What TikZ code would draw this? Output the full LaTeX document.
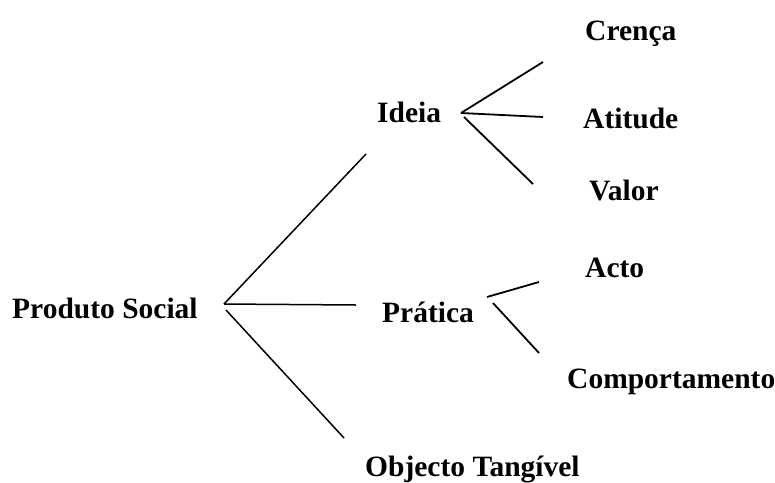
\documentclass[tikz,border=0pt]{standalone}
\usepackage{fontspec}
\setmainfont{Liberation Serif}
\begin{document}
\begin{tikzpicture}[x=1pt,y=-1pt,
  lbl/.style={anchor=base west,inner sep=0pt,font=\fontsize{29.5}{30}\selectfont\bfseries},
  conn/.style={draw=black,line width=1.8pt}]
\useasboundingbox (0,0) rectangle (775,482);
% labels
\node[lbl] (ps) at (12,318) {Produto Social};
\node[lbl] (id) at (377,122) {Ideia};
\node[lbl] (pr) at (382,322) {Prática};
\node[lbl] (ot) at (365,476) {Objecto Tangível};
\node[lbl] (cr) at (585,40) {Crença};
\node[lbl] (at) at (583,128) {Atitude};
\node[lbl] (va) at (589,200) {Valor};
\node[lbl] (ac) at (585,277) {Acto};
\node[lbl] (co) at (567,388) {Comportamento};
% connector end points
\coordinate (psA) at (224,304);
\coordinate (psB) at (226,310);
\coordinate (idIn) at (366,154);
\coordinate (prIn) at (356,305);
\coordinate (otIn) at (344,438);
\coordinate (idA) at (461,113);
\coordinate (idB) at (464,117);
\coordinate (crIn) at (543,62);
\coordinate (atIn) at (543,117);
\coordinate (vaIn) at (533,184);
\coordinate (prA) at (487,297);
\coordinate (prB) at (493,303);
\coordinate (acIn) at (539,282);
\coordinate (coIn) at (539,353);
% connectors
\draw[conn,line width=1.5pt] (psA) -- (idIn);
\draw[conn,line width=1.5pt] (psA) -- (prIn);
\draw[conn,line width=1.5pt] (psB) -- (otIn);
\draw[conn] (idA) -- (crIn);
\draw[conn] (idA) -- (atIn);
\draw[conn] (idB) -- (vaIn);
\draw[conn] (prA) -- (acIn);
\draw[conn] (prB) -- (coIn);
\end{tikzpicture}
\end{document}
